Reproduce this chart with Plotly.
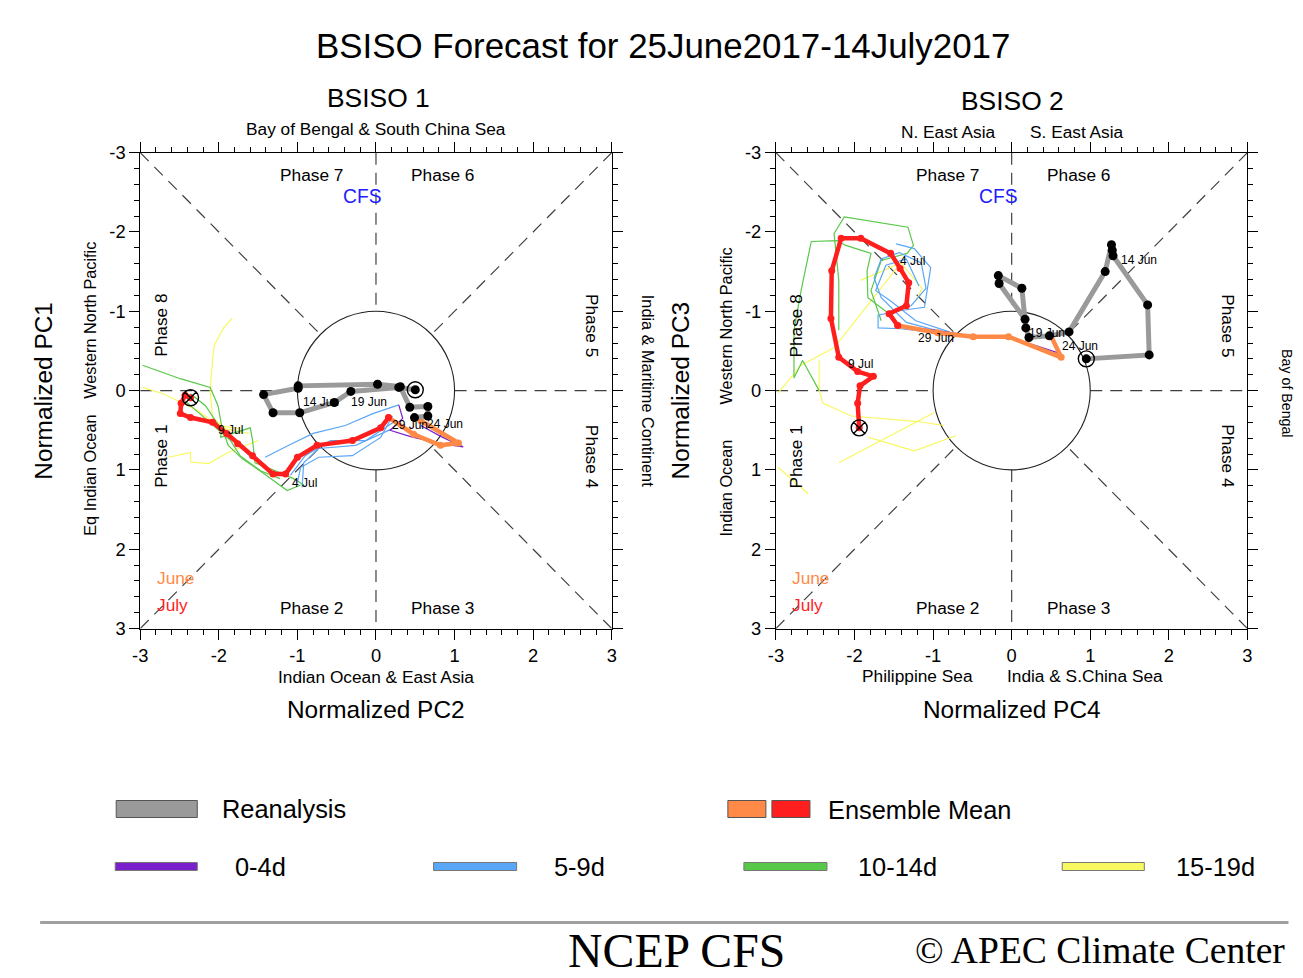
import plotly.graph_objects as go

# Empirical page mapping: the page keeps an 8 px body margin and the photograph is
# slightly squeezed (about 0.989 horizontally, 0.979 vertically).  Reference pixel
# positions are converted into figure pixels with these factors.
OFF = 8
SX, SY = 0.989, 0.979
YSHIFT = -2.5
W, H = 1309, 991
FS = 1.0 / 0.984  # font compensation
SANS = "Liberation Sans"
SERIF = "Liberation Serif"

# ---------------- DATA ----------------
tick_vals = [-3, -2, -1, 0, 1, 2, 3]
tick_text = ["-3", "-2", "-1", "0", "1", "2", "3"]

# BSISO 1 : x = PC2, y = PC1
rea1_x = [0.50, 0.29, -0.32, -0.53, -0.97, -1.31, -1.43, -0.99, -0.99, 0.02, 0.31, 0.43, 0.66, 0.66, 0.49]
rea1_y = [-0.01, -0.04, 0.01, 0.15, 0.28, 0.28, 0.05, -0.03, -0.06, -0.08, -0.05, 0.21, 0.20, 0.32, 0.34]
june1_x = [0.57, 1.05, 0.82, 0.48, 0.16]
june1_y = [0.38, 0.66, 0.69, 0.55, 0.34]
july1_x = [0.16, 0.06, -0.30, -0.75, -1.00, -1.15, -1.31, -1.57, -1.76, -1.90, -2.08, -2.36, -2.49, -2.48, -2.43, -2.36]
july1_y = [0.34, 0.47, 0.63, 0.69, 0.84, 1.05, 1.05, 0.82, 0.67, 0.54, 0.40, 0.34, 0.29, 0.16, 0.06, 0.09]

m1_0_4 = [([0.29, 0.34, 0.18, 0.44, 0.82, 1.11, 0.83, 0.57], [0.18, 0.35, 0.50, 0.58, 0.67, 0.71, 0.58, 0.44])]
m1_5_9 = [
    ([0.29, -0.04, -0.39, -0.80, -1.11, -1.41], [0.18, 0.29, 0.44, 0.54, 0.69, 0.84]),
    ([0.21, 0.06, -0.30, -0.73, -0.96, -1.00], [0.32, 0.59, 0.82, 0.84, 0.97, 1.16]),
    ([0.25, -0.13, -0.58, -0.90, -1.09], [0.38, 0.63, 0.63, 0.82, 1.07]),
    ([0.21, -0.26, -0.73, -0.92, -0.94], [0.48, 0.69, 0.73, 0.91, 1.22]),
]
m1_10_14 = [
    ([-2.97, -2.49, -2.11, -2.01, -1.96, -1.88, -1.70, -1.45, -1.13, -0.96],
     [-0.32, -0.15, -0.04, 0.19, 0.47, 0.69, 0.86, 1.03, 1.26, 1.19]),
    ([-2.36, -2.17, -1.96, -1.98, -1.60, -1.57, -1.54, -1.28, -1.05, -0.92],
     [0.04, 0.19, 0.50, 0.59, 0.47, 0.63, 0.91, 1.01, 1.11, 1.19]),
    ([-2.43, -1.85, -1.73, -1.47, -1.22], [0.13, 0.63, 0.82, 1.01, 1.11]),
]
m1_15_19 = [
    ([-1.83, -1.94, -2.06, -2.08, -2.11, -2.08, -1.92, -1.62], [-0.91, -0.79, -0.57, -0.38, 0.00, 0.34, 0.48, 0.54]),
    ([-2.97, -2.71, -2.27, -2.01, -1.73], [-0.04, 0.04, 0.25, 0.44, 0.48]),
    ([-2.64, -2.36, -2.36, -2.13, -1.88, -1.50], [0.84, 0.78, 0.90, 0.92, 0.78, 0.63]),
]
lab1_text = ["14 Jun", "19 Jun", "24 Jun", "29 Jun", "4 Jul", "9 Jul"]
lab1_x = [-0.96, -0.34, 0.62, 0.18, -1.10, -2.04]
lab1_y = [0.14, 0.14, 0.42, 0.43, 1.17, 0.50]

# BSISO 2 : x = PC4, y = PC3
rea2_x = [0.95, 1.75, 1.73, 1.29, 1.28, 1.27, 1.19, 0.73, 0.48, 0.22, 0.18, 0.13, -0.17, -0.16, 0.17]
rea2_y = [-0.40, -0.45, -1.08, -1.70, -1.77, -1.84, -1.50, -0.74, -0.69, -0.67, -0.79, -1.29, -1.45, -1.35, -0.90]
june2_x = [0.50, 0.63, -0.04, -0.49, -0.94, -1.45]
june2_y = [-0.69, -0.42, -0.68, -0.68, -0.73, -0.82]
july2_x = [-1.45, -1.56, -1.34, -1.31, -1.42, -1.54, -1.92, -2.17, -2.29, -2.30, -2.20, -1.96, -1.76, -1.93, -1.96, -1.94]
july2_y = [-0.82, -0.97, -1.07, -1.36, -1.54, -1.73, -1.92, -1.92, -1.51, -0.91, -0.42, -0.24, -0.18, -0.06, 0.16, 0.47]

m2_0_4 = [([0.61, -0.01, -0.52, -0.96, -1.47, -1.56], [-0.47, -0.67, -0.69, -0.76, -0.82, -0.95])]
m2_5_9 = [
    ([-0.13, -0.90, -1.41, -1.70, -1.70, -1.41, -1.11, -1.03, -1.24, -1.47],
     [-0.67, -0.72, -0.78, -0.79, -0.95, -1.01, -1.05, -1.55, -1.79, -1.85]),
    ([-0.77, -1.34, -1.66, -1.75, -1.66, -1.43, -1.15, -1.09, -1.28, -1.54],
     [-0.71, -0.86, -1.17, -1.42, -1.66, -1.74, -1.61, -1.29, -1.07, -0.98]),
    ([-0.64, -1.22, -1.54, -1.73, -1.60, -1.34, -1.18], [-0.69, -0.88, -1.13, -1.26, -1.58, -1.66, -1.32]),
]
m2_10_14 = [
    ([-1.56, -1.83, -1.84, -1.79, -2.11, -2.22, -2.55, -2.68, -2.77, -2.77, -2.66, -2.45],
     [-0.97, -1.17, -1.51, -1.73, -1.83, -1.89, -1.88, -1.26, -0.76, -0.16, -0.38, 0.00]),
    ([-1.66, -1.79, -1.66, -1.33, -1.25, -1.32, -2.13, -2.26, -2.20, -2.20],
     [-0.88, -1.26, -1.64, -1.73, -1.83, -2.06, -2.19, -1.98, -1.39, -0.76]),
]
m2_15_19 = [
    ([-1.92, -1.41, -1.14, -1.22], [-1.39, -1.61, -1.29, -1.13]),
    ([-1.41, -2.26, -2.68, -2.97], [-1.61, -0.54, -0.32, 0.03]),
    ([-2.45, -2.45, -2.40, -2.04, -1.19, -0.86], [-0.38, 0.00, 0.16, 0.32, 0.39, 0.44]),
    ([-2.20, -1.66, -0.99], [0.91, 0.63, 0.28]),
    ([-1.82, -1.24, -0.71], [0.59, 0.76, 0.57]),
    ([-2.97, -2.59], [0.97, 1.30]),
]
lab2_text = ["14 Jun", "19 Jun", "24 Jun", "29 Jun", "4 Jul", "9 Jul"]
lab2_x = [1.37, 0.20, 0.62, -1.22, -1.45, -2.11]
lab2_y = [-1.65, -0.72, -0.56, -0.66, -1.64, -0.33]

legend_top = ["Reanalysis", "Ensemble Mean"]
legend_bottom = ["0-4d", "5-9d", "10-14d", "15-19d"]

# ---------------- STYLES ----------------
C_GRAY = "#9a9a9a"
C_ORANGE = "#ff8a48"
C_RED = "#ff1e1e"
C_PURPLE = "#7a1fcc"
C_BLUE = "#5aa6f7"
C_GREEN = "#58c848"
C_YELLOW = "#f8f860"

fig = go.Figure()
annotations = []
shapes = []


def px(x):
    return (x / SX - OFF) / W


def py(y):
    return 1 - ((y + YSHIFT) / SY - OFF) / H


def fs(s):
    return round(s * FS, 1)


def txt(x, y, s, size, color="black", angle=0, family=SANS, xanchor="center", yanchor="middle"):
    annotations.append(dict(x=px(x), y=py(y), xref="paper", yref="paper", text=s, showarrow=False,
                            font=dict(family=family, size=fs(size), color=color), textangle=angle,
                            xanchor=xanchor, yanchor=yanchor))


def panel(xa, ya, rx, ry, jx, jy, lx, ly, m04, m59, m1014, m1519, labs, lxs, lys):
    for group, col in ((m1519, C_YELLOW), (m1014, C_GREEN), (m59, C_BLUE), (m04, C_PURPLE)):
        for gx, gy in group:
            fig.add_trace(go.Scatter(x=gx, y=gy, xaxis=xa, yaxis=ya, mode="lines",
                                     line=dict(color=col, width=1.2), hoverinfo="skip"))
    fig.add_trace(go.Scatter(x=jx, y=jy, xaxis=xa, yaxis=ya, mode="lines+markers",
                             line=dict(color=C_ORANGE, width=4.5), marker=dict(color=C_ORANGE, size=7)))
    fig.add_trace(go.Scatter(x=lx, y=ly, xaxis=xa, yaxis=ya, mode="lines+markers",
                             line=dict(color=C_RED, width=4.5), marker=dict(color=C_RED, size=7)))
    fig.add_trace(go.Scatter(x=rx, y=ry, xaxis=xa, yaxis=ya, mode="lines+markers",
                             line=dict(color=C_GRAY, width=5), marker=dict(color="black", size=9)))
    fig.add_trace(go.Scatter(x=[rx[0]], y=[ry[0]], xaxis=xa, yaxis=ya, mode="markers",
                             marker=dict(symbol="circle-open-dot", size=16, color="black",
                                         line=dict(width=1.4, color="black"))))
    fig.add_trace(go.Scatter(x=[lx[-1]], y=[ly[-1]], xaxis=xa, yaxis=ya, mode="markers",
                             marker=dict(symbol="circle-x-open", size=16, color="black",
                                         line=dict(width=1.4, color="black"))))
    for t, x, y in zip(labs, lxs, lys):
        annotations.append(dict(x=x, y=y, xref=xa, yref=ya, text=t, showarrow=False,
                                xanchor="left", yanchor="middle",
                                font=dict(family=SANS, size=12, color="black")))
    r = 0.7071
    dash = dict(color="#404040", width=1.2, dash="12px,8px")
    for (x0, y0, x1, y1) in [(-3, -3, -r, -r), (3, 3, r, r), (3, -3, r, -r), (-3, 3, -r, r),
                             (-3, 0, -1, 0), (1, 0, 3, 0), (0, -3, 0, -1), (0, 1, 0, 3)]:
        shapes.append(dict(type="line", xref=xa, yref=ya, x0=x0, y0=y0, x1=x1, y1=y1, line=dash, layer="below"))
    shapes.append(dict(type="circle", xref=xa, yref=ya, x0=-1, y0=-1, x1=1, y1=1,
                       line=dict(color="#222222", width=1.1), layer="below"))


panel("x", "y", rea1_x, rea1_y, june1_x, june1_y, july1_x, july1_y,
      m1_0_4, m1_5_9, m1_10_14, m1_15_19, lab1_text, lab1_x, lab1_y)
panel("x2", "y2", rea2_x, rea2_y, june2_x, june2_y, july2_x, july2_y,
      m2_0_4, m2_5_9, m2_10_14, m2_15_19, lab2_text, lab2_x, lab2_y)


def axis(domain, anchor, rng):
    return dict(domain=domain, anchor=anchor, range=rng, showgrid=False, zeroline=False,
                showline=True, linecolor="black", linewidth=1, mirror="allticks",
                ticks="outside", ticklen=10, tickwidth=1, tickcolor="black",
                tickvals=tick_vals, ticktext=tick_text,
                tickfont=dict(family=SANS, size=fs(18), color="black"),
                minor=dict(dtick=0.2, tick0=0, ticks="outside", ticklen=5, tickwidth=1,
                           tickcolor="black", showgrid=False),
                fixedrange=True)


ydom = [py(628), py(152)]
x1dom = [px(140), px(611)]
x2dom = [px(775), px(1246)]

# ---------------- TEXT ----------------
txt(662, 45, "BSISO Forecast for 25June2017-14July2017", 34.3)
txt(378, 97, "BSISO 1", 26)
txt(376, 128, "Bay of Bengal & South China Sea", 17)
txt(43, 390, "Normalized PC1", 24, angle=-90)
txt(89, 475, "Eq Indian Ocean", 16, angle=-90)
txt(89, 320, "Western North Pacific", 16, angle=-90)
txt(648, 390, "India & Maritime Continent", 16, angle=90)
txt(680, 390, "Normalized PC3", 24, angle=-90)
txt(376, 676, "Indian Ocean & East Asia", 17)
txt(376, 709, "Normalized PC2", 24)
txt(1011, 100, "BSISO 2", 26)
txt(947, 131, "N. East Asia", 17)
txt(1076, 131, "S. East Asia", 17)
txt(725, 325, "Western North Pacific", 16, angle=-90)
txt(725, 487, "Indian Ocean", 16, angle=-90)
txt(1286, 393, "Bay of Bengal", 14, angle=90)
txt(916, 675, "Philippine Sea", 17)
txt(1084, 675, "India & S.China Sea", 17)
txt(1011, 709, "Normalized PC4", 24)

for off in (0, 635):
    txt(311 + off, 174, "Phase 7", 17)
    txt(442 + off, 174, "Phase 6", 17)
    txt(311 + off, 607, "Phase 2", 17)
    txt(442 + off, 607, "Phase 3", 17)
    txt(160 + off, 325, "Phase 8", 17, angle=-90)
    txt(160 + off, 456, "Phase 1", 17, angle=-90)
    txt(592 + off, 325, "Phase 5", 17, angle=90)
    txt(592 + off, 456, "Phase 4", 17, angle=90)
    txt(362 + off, 196, "CFS", 19, color="#2020ff")
    txt(175 + off, 577, "June", 17, color=C_ORANGE)
    txt(172 + off, 604, "July", 17, color=C_RED)


def rect(x0, y0, x1, y1, fill, line="#555555", lw=1):
    shapes.append(dict(type="rect", xref="paper", yref="paper", x0=px(x0), x1=px(x1),
                       y0=py(y1), y1=py(y0), fillcolor=fill, line=dict(color=line, width=lw)))


rect(116, 800, 197, 817, C_GRAY)
txt(220, 808, legend_top[0], 25, xanchor="left")
rect(727, 800, 765, 817, C_ORANGE)
rect(771, 800, 809, 817, C_RED)
txt(825, 809, legend_top[1], 25, xanchor="left")
for (x0, x1, tx), col, lab in zip([(115, 197, 233), (433, 516, 551), (743, 826, 855), (1061, 1143, 1173)],
                                  [C_PURPLE, C_BLUE, C_GREEN, C_YELLOW], legend_bottom):
    rect(x0, 862, x1, 870, col, line="#777777")
    txt(tx, 866, lab, 25, xanchor="left")

shapes.append(dict(type="line", xref="paper", yref="paper", x0=px(40), x1=px(1287), y0=py(922), y1=py(922),
                   line=dict(color="#a0a0a0", width=3)))
txt(676, 950, "NCEP CFS", 47, family=SERIF)
txt(1099, 950, "\u00a9 APEC Climate Center", 37, family=SERIF)

fig.update_layout(
    width=W, height=H, margin=dict(l=0, r=0, t=0, b=0),
    paper_bgcolor="white", plot_bgcolor="white", showlegend=False,
    xaxis=axis(x1dom, "y", [-3, 3]),
    yaxis=axis(ydom, "x", [3, -3]),
    xaxis2=axis(x2dom, "y2", [-3, 3]),
    yaxis2=axis(ydom, "x2", [3, -3]),
    annotations=annotations, shapes=shapes,
)

fig.write_html("out.html")
